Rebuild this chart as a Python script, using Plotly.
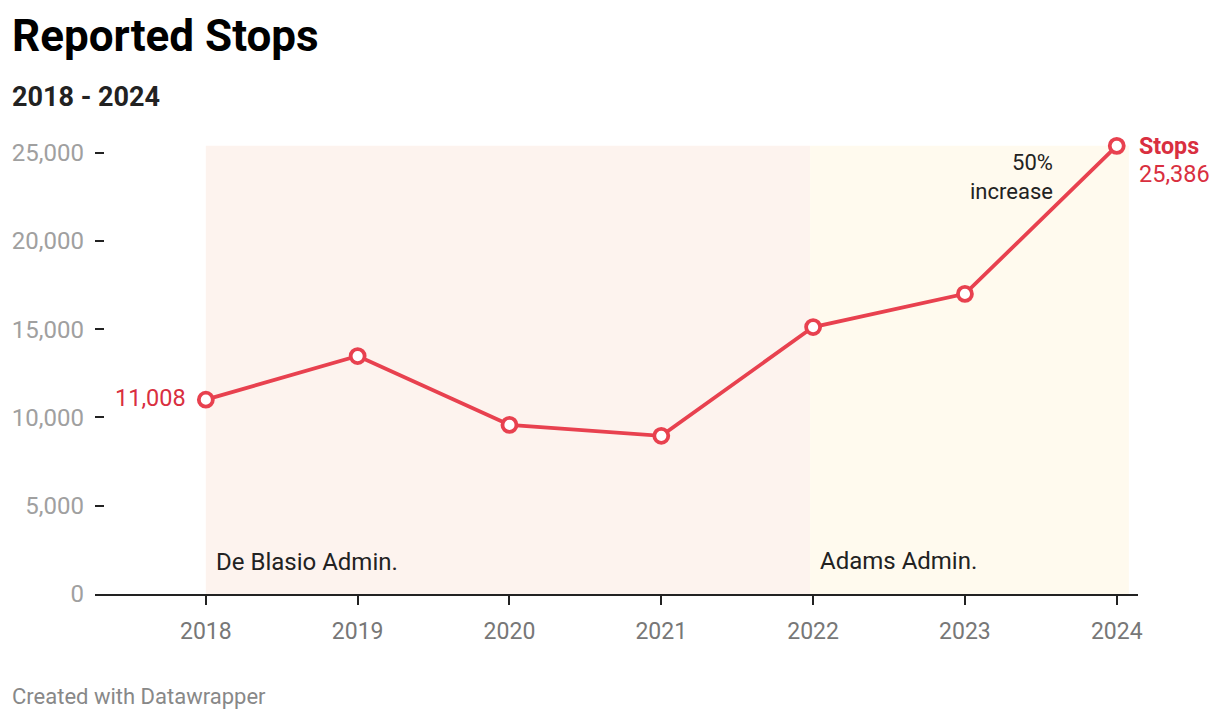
import plotly.graph_objects as go

years = [2018, 2019, 2020, 2021, 2022, 2023, 2024]
stops = [11008, 13480, 9580, 8960, 15120, 17000, 25386]
y_ticks = [0, 5000, 10000, 15000, 20000, 25000]
y_tick_labels = ["0", "5,000", "10,000", "15,000", "20,000", "25,000"]
admins = ["De Blasio Admin.", "Adams Admin."]
admin_start = [2018, 2021.98]
admin_end = [2021.98, 2024.08]
admin_colors = ["#fdf3ee", "#fffaee"]

RED = "#e8414f"
RED_TEXT = "#d92f40"
FONT = "Roboto"

W, H = 1212, 712
L, R, T, B = 87, 82, 127, 126
PW = W - L - R

fig = go.Figure()

fig.add_trace(go.Scatter(
    x=years, y=stops, mode="lines+markers",
    line=dict(color=RED, width=3.8),
    marker=dict(size=14, color="white", line=dict(color=RED, width=3.8)),
    hoverinfo="skip", showlegend=False, cliponaxis=False,
))

shapes = []
for s, e, c in zip(admin_start, admin_end, admin_colors):
    shapes.append(dict(type="rect", xref="x", yref="y", x0=s, x1=e, y0=0, y1=max(stops),
                       fillcolor=c, line=dict(width=0), layer="below"))

annotations = [
    dict(text="<b>Reported Stops</b>", xref="paper", yref="paper", x=-(L - 2) / PW, y=1.0,
         xanchor="left", yanchor="bottom", showarrow=False, yshift=71,
         font=dict(family=FONT, size=44, color="#000")),
    dict(text="<b>2018 - 2024</b>", xref="paper", yref="paper", x=-(L - 2) / PW, y=1.0,
         xanchor="left", yanchor="bottom", showarrow=False, yshift=20,
         font=dict(family=FONT, size=27, color="#222")),
    dict(text="Created with Datawrapper", xref="paper", yref="paper", x=-(L - 2) / PW, y=0,
         xanchor="left", yanchor="middle", showarrow=False, yshift=-102,
         font=dict(family=FONT, size=22, color="#888")),
    dict(text=f"{stops[0]:,}", x=years[0], y=stops[0], xref="x", yref="y",
         xanchor="right", yanchor="middle", xshift=-18, yshift=2, showarrow=False,
         font=dict(family=FONT, size=23.5, color=RED_TEXT)),
    dict(text="<b>Stops</b>", x=years[-1], y=stops[-1], xref="x", yref="y",
         xanchor="left", yanchor="middle", xshift=20, yshift=0, showarrow=False,
         font=dict(family=FONT, size=23.3, color=RED_TEXT)),
    dict(text=f"{stops[-1]:,}", x=years[-1], y=stops[-1], xref="x", yref="y",
         xanchor="left", yanchor="middle", xshift=20, yshift=-28, showarrow=False,
         font=dict(family=FONT, size=23.5, color=RED_TEXT)),
    dict(text="50%<br>increase", x=2023.59, y=stops[-1], xref="x", yref="y",
         xanchor="right", yanchor="top", yshift=-2, showarrow=False, align="right",
         font=dict(family=FONT, size=22, color="#222")),
    dict(text=admins[0], x=admin_start[0], y=0, xref="x", yref="y",
         xanchor="left", yanchor="bottom", xshift=8, yshift=16, showarrow=False,
         font=dict(family=FONT, size=24, color="#222")),
    dict(text=admins[1], x=admin_start[1], y=0, xref="x", yref="y",
         xanchor="left", yanchor="bottom", xshift=8, yshift=17, showarrow=False,
         font=dict(family=FONT, size=24, color="#222")),
]

fig.update_layout(
    width=W, height=H,
    margin=dict(l=L, r=R, t=T, b=B, autoexpand=False),
    paper_bgcolor="white", plot_bgcolor="white",
    shapes=shapes, annotations=annotations,
    font=dict(family=FONT),
    xaxis=dict(range=[2017.27, 2024.14], tickvals=years, ticktext=[str(y) for y in years],
               showgrid=False, zeroline=False, showline=True, linecolor="#222", linewidth=2,
               ticks="outside", ticklen=9, tickwidth=2, tickcolor="#222",
               tickfont=dict(family=FONT, size=23, color="#777"), ticklabelstandoff=6),
    yaxis=dict(range=[0, 26000], tickvals=y_ticks, ticktext=y_tick_labels,
               showgrid=False, zeroline=False, showline=False,
               ticks="inside", ticklen=9, tickwidth=2, tickcolor="#222",
               tickfont=dict(family=FONT, size=24, color="#a0a0a0"), ticklabelstandoff=10),
)

fig.write_html("out.html")
